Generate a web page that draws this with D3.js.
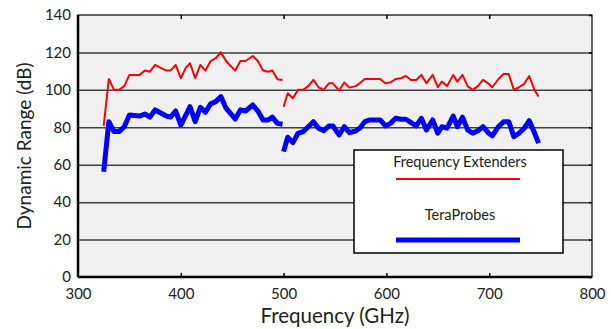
<!DOCTYPE html>
<html>
<head>
<meta charset="utf-8">
<script src="https://cdn.jsdelivr.net/npm/d3@7"></script>
<style>
  body { margin: 0; background: #fff; }
  text { font-family: Lato, "Open Sans", sans-serif; fill: #222; }
</style>
</head>
<body>
<div id="chart"></div>
<script>
// frequency points (GHz), two sweeps
var freq1 = [325, 330, 335, 340, 345, 350, 360, 365, 370, 375, 380, 386, 390, 395, 400, 405, 409, 414, 419, 424,
             429, 434, 439, 444, 449, 453, 458, 463, 470, 475, 480, 485, 489, 494, 499];
var freq2 = [500, 504, 509, 514, 519, 524, 529, 534, 539, 544, 548, 554, 559, 564, 570, 574, 579, 584, 594, 599,
             604, 609, 614, 619, 624, 629, 634, 639, 645, 650, 654, 659, 665, 669, 674, 679, 684, 689, 694, 699,
             703, 709, 714, 719, 724, 729, 734, 739, 744, 748];

// Frequency Extenders (dB)
var ext1 = [80.7, 105.8, 100, 100, 102, 108, 108, 110.3, 109.7, 113.3, 111.9, 110.3, 110.3, 113.3, 106.2, 111.9, 114.2, 106.2, 113.3, 110.3,
            115.4, 116.9, 120.1, 115.4, 112.4, 110.3, 115.4, 115.4, 118.1, 115.4, 110.3, 109.7, 110.3, 105.7, 105.3];
var ext2 = [91, 98.2, 95.5, 100, 100, 102, 105.3, 101.4, 100, 103.5, 103.5, 99.6, 103.9, 101.2, 102, 103.5, 105.8, 105.8, 105.8, 103.5,
            104, 105.8, 106.2, 107.4, 105.3, 105.3, 108, 103.5, 108, 101.4, 104.4, 102, 108, 104.4, 108, 102, 100, 102, 105.3, 103.5,
            101.4, 105.8, 108.5, 108.5, 100, 101.4, 103.2, 107.4, 100, 96.4];

// TeraProbes (dB)
var tp1 = [56.3, 83, 77.7, 77.7, 80.3, 86.6, 86, 87.1, 85.4, 89.3, 87.8, 86, 85.4, 88.7, 81.2, 86.6, 91, 83, 90.7, 88,
           92.5, 93.7, 96.4, 90.2, 87, 84.4, 89.3, 88.7, 91.9, 88.7, 83.9, 83.9, 85.4, 82.1, 81.6];
var tp2 = [67, 74.7, 71.8, 76.8, 77.7, 80.3, 83, 79.5, 78.2, 80.7, 80.7, 75.9, 80.3, 77.1, 78, 79.5, 83, 83.9, 83.9, 80.7,
           82.1, 84.8, 84.3, 84.3, 82.5, 80.7, 84.8, 78.6, 83.9, 76.8, 80.3, 79.5, 86, 80.3, 85.4, 78.6, 76.8, 78.2, 80.3, 77.1,
           75.4, 80.3, 83, 83, 75, 76.8, 79.5, 83.5, 77.1, 71.5];

var xTicks = [300, 400, 500, 600, 700, 800];
var yTicks = [0, 20, 40, 60, 80, 100, 120, 140];

var W = 611, H = 329;
var margin = {top: 15, right: 19, bottom: 52, left: 78};
var width = W - margin.left - margin.right;
var height = H - margin.top - margin.bottom;

var svg = d3.select("#chart").append("svg")
    .attr("width", W)
    .attr("height", H);

var g = svg.append("g").attr("transform", "translate(" + margin.left + "," + margin.top + ")");

var x = d3.scaleLinear().domain([300, 800]).range([0, width]);
var y = d3.scaleLinear().domain([0, 140]).range([height, 0]);

// plot background
g.append("rect")
    .attr("width", width)
    .attr("height", height)
    .attr("fill", "#f0f0f0");

// horizontal grid
g.append("g")
    .attr("class", "grid")
    .call(d3.axisLeft(y).tickValues(yTicks.slice(1, -1)).tickSize(-width).tickFormat(""))
    .call(function(s) {
      s.select(".domain").remove();
      s.selectAll("line").attr("stroke", "#404040").attr("stroke-width", 1.5);
    });

// inner ticks top / bottom / right
g.append("g")
    .attr("transform", "translate(0," + height + ")")
    .call(d3.axisTop(x).tickValues(xTicks.slice(1, -1)).tickSize(4).tickFormat(""))
    .call(function(s) { s.select(".domain").remove(); s.selectAll("line").attr("stroke-width", 1.5); });
g.append("g")
    .call(d3.axisBottom(x).tickValues(xTicks.slice(1, -1)).tickSize(4).tickFormat(""))
    .call(function(s) { s.select(".domain").remove(); s.selectAll("line").attr("stroke-width", 1.5); });
g.append("g")
    .attr("transform", "translate(" + width + ",0)")
    .call(d3.axisLeft(y).tickValues(yTicks).tickSize(3).tickFormat(""))
    .call(function(s) { s.select(".domain").remove(); s.selectAll("line").attr("stroke-width", 1.5); });

// frame
g.append("rect")
    .attr("width", width)
    .attr("height", height)
    .attr("fill", "none")
    .attr("stroke", "#000")
    .attr("stroke-width", 1.2);
g.append("line").attr("x1", 0).attr("x2", 0).attr("y1", 0).attr("y2", height)
    .attr("stroke", "#000").attr("stroke-width", 2.5);
g.append("line").attr("x1", 0).attr("x2", width).attr("y1", height).attr("y2", height)
    .attr("stroke", "#000").attr("stroke-width", 2.5);

// tick labels
g.append("g")
    .attr("transform", "translate(0," + height + ")")
    .call(d3.axisBottom(x).tickValues(xTicks).tickSize(0).tickPadding(11))
    .call(function(s) {
      s.select(".domain").remove();
      s.selectAll("text").attr("font-size", 15).attr("font-family", "Lato, sans-serif").attr("fill", "#222");
    });
g.append("g")
    .call(d3.axisLeft(y).tickValues(yTicks).tickSize(0).tickPadding(7))
    .call(function(s) {
      s.select(".domain").remove();
      s.selectAll("text").attr("font-size", 15).attr("font-family", "Lato, sans-serif").attr("fill", "#222");
    });

// axis titles
svg.append("text")
    .attr("x", margin.left + width / 2)
    .attr("y", 323)
    .attr("text-anchor", "middle")
    .attr("font-size", 20.5)
    .text("Frequency (GHz)");
svg.append("text")
    .attr("transform", "translate(31," + (margin.top + height / 2) + ") rotate(-90)")
    .attr("text-anchor", "middle")
    .attr("font-size", 19)
    .text("Dynamic Range (dB)");

// lines
var line = d3.line()
    .x(function(d) { return x(d[0]); })
    .y(function(d) { return y(d[1]); });

function seg(f, v) { return f.map(function(d, i) { return [d, v[i]]; }); }

var series = [
  {data: seg(freq1, ext1), color: "#ff0000", w: 2},
  {data: seg(freq2, ext2), color: "#ff0000", w: 2},
  {data: seg(freq1, tp1), color: "#0000ff", w: 5},
  {data: seg(freq2, tp2), color: "#0000ff", w: 5}
];

g.selectAll(".series")
    .data(series)
    .enter().append("path")
    .attr("class", "series")
    .attr("d", function(d) { return line(d.data); })
    .attr("fill", "none")
    .attr("stroke", function(d) { return d.color; })
    .attr("stroke-width", function(d) { return d.w; })
    .attr("stroke-linejoin", "round");

// legend
var lg = svg.append("g").attr("transform", "translate(354,150)");
lg.append("rect")
    .attr("width", 209)
    .attr("height", 103)
    .attr("fill", "#fff")
    .attr("stroke", "#000")
    .attr("stroke-width", 1.5);
lg.append("text").attr("x", 106).attr("y", 17).attr("text-anchor", "middle").attr("font-size", 14.5)
    .text("Frequency Extenders");
lg.append("line").attr("x1", 42).attr("x2", 166).attr("y1", 29).attr("y2", 29)
    .attr("stroke", "#ff0000").attr("stroke-width", 2);
lg.append("text").attr("x", 106).attr("y", 70).attr("text-anchor", "middle").attr("font-size", 14.5)
    .text("TeraProbes");
lg.append("line").attr("x1", 42).attr("x2", 166).attr("y1", 90).attr("y2", 90)
    .attr("stroke", "#0000ff").attr("stroke-width", 5);
</script>
</body>
</html>
